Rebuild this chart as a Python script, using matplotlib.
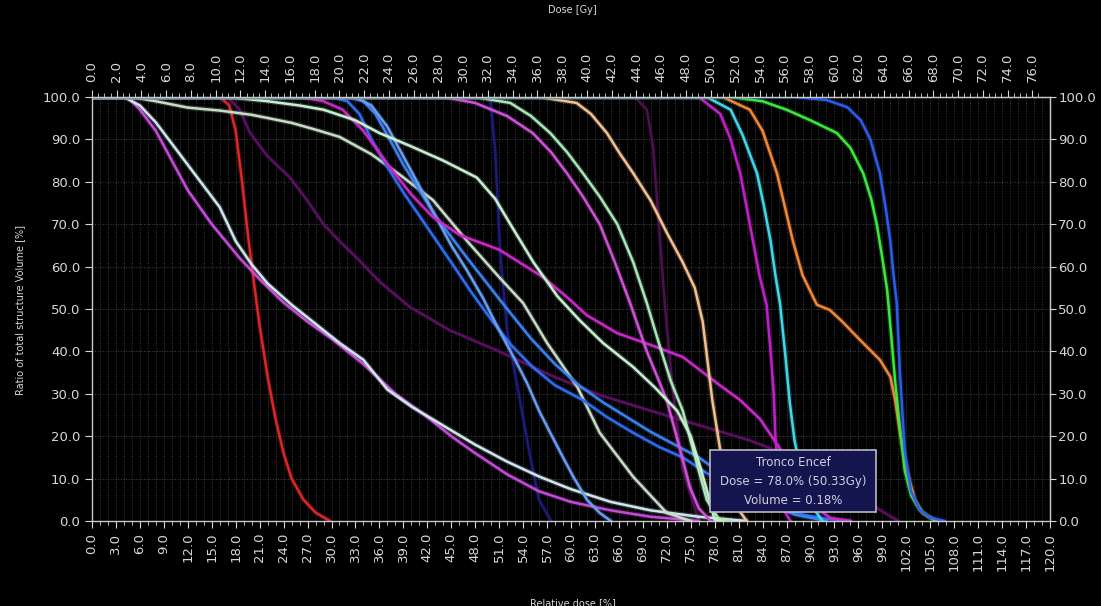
import numpy as np
import matplotlib
matplotlib.use("Agg")
import matplotlib.pyplot as plt
from matplotlib.patches import Rectangle

# relative dose (%) -> dose (Gy): 78.0 % = 50.33 Gy
GY_PER_PCT = 50.33 / 78.0

# DVH curves: (relative dose %, volume %)
red_x = [0, 16, 17.2, 18, 18.8, 19.5, 20.3, 21, 22, 23, 24, 25, 26.5, 28, 29.8]
red_y = [100, 100, 98, 92, 80, 68, 56, 46, 34, 24, 16, 10, 5, 2, 0]

violet_x = [0, 4.5, 6, 8, 10, 12, 15, 18.5, 21, 24, 27, 30, 34, 38, 42, 45, 48, 52, 56, 60, 65, 70, 76]
violet_y = [100, 100, 97, 92, 85, 78, 70, 62, 57, 51.5, 47, 43, 37, 30, 24.5, 20, 16, 11, 7, 4.5, 2.5, 1, 0]

pale_x = [0, 4, 6, 8, 10, 12, 14, 16, 18, 20, 22, 25, 28, 31, 34, 37, 40, 44, 48, 52, 56, 60, 65, 70, 76, 82]
pale_y = [100, 100, 98, 94, 89, 84, 79, 74, 66, 60.5, 56, 51, 46.5, 42, 38, 31, 27, 22.5, 18, 14, 10.5, 7.5, 4.5, 2.5, 1, 0]

grey_x = [0, 5, 8, 12, 16, 20, 25, 28, 31, 35, 38.6, 42.7, 47, 51, 54, 57, 60.8, 63.6, 67.8, 72, 75]
grey_y = [100, 100, 99, 97.5, 96.8, 95.8, 93.9, 92.3, 90.6, 86.5, 81.6, 75.7, 66, 57.5, 51.4, 42, 31.6, 20.8, 10.4, 1.9, 0]

tronco_x = [0, 17, 22, 26, 29, 33, 36, 39.8, 44, 48.2, 50.5, 52.4, 55.3, 58.3, 61, 64, 67.8, 70.5, 73.3, 75, 76.2, 77.2, 78, 79]
tronco_y = [100, 100, 99, 98, 97, 94.5, 91.5, 88.5, 85, 81, 76, 70, 61, 53, 47.5, 42, 36.3, 31.5, 26, 20, 12.7, 6, 0.18, 0]

mag1_x = [0, 26, 29, 31.4, 34, 37.3, 40, 42.7, 46, 51, 56.5, 59.5, 62, 65.8, 70, 74, 78.3, 81.2, 83.7, 86.2, 88, 90, 92.5, 95]
mag1_y = [100, 100, 99, 97, 92, 83.5, 77, 71.7, 67.5, 64, 57.5, 52.8, 48.5, 44.3, 41.5, 38.7, 32.5, 28.5, 24, 17, 10, 4, 0.7, 0]

mag2_x = [0, 44, 48, 52, 55.2, 57.5, 59.5, 61.5, 63.6, 65.5, 67.4, 69.5, 72, 73.5, 74.9, 76, 77.5]
mag2_y = [100, 100, 98.6, 95.5, 91.5, 87, 82, 76.5, 70, 61, 51.4, 40, 28.5, 18, 8, 3, 0]

gw_x = [0, 48, 52.4, 55, 57.4, 59.5, 61.5, 63.6, 65.8, 67.8, 69.5, 71, 72.5, 74, 75.3, 77, 78.5, 80]
gw_y = [100, 100, 98.6, 95.5, 91.5, 87, 82, 76.5, 70, 61, 51.4, 42, 33, 26, 16.7, 5, 0.5, 0]

peach_x = [0, 56, 60.7, 62.5, 64.5, 66, 67.8, 70, 72, 74, 75.5, 76.5, 77.7, 78.7, 79.5, 80.5, 82]
peach_y = [100, 100, 98.6, 96, 91.5, 87, 82, 75.5, 68, 61, 55, 47, 28.5, 16.7, 10, 4, 0]

mag3_x = [0, 76, 78.7, 80, 81.2, 82, 82.8, 83.6, 84.5, 85, 85.4, 85.6, 86, 86.5, 87.5]
mag3_y = [100, 100, 96, 90, 82, 74, 66, 58, 51, 40, 30, 20, 10, 3, 0]

cyan_x = [0, 77, 80, 81.5, 83.3, 84.2, 85, 85.6, 86.2, 86.8, 87.4, 88, 89, 90, 91.5]
cyan_y = [100, 100, 97, 91, 82, 74, 66, 58, 51, 40, 28, 19, 10, 4, 0]

orange_x = [0, 79, 82.4, 84, 85.8, 86.8, 87.8, 89, 90.8, 92.4, 94, 96.2, 98.7, 100, 100.6, 101.2, 101.8, 102.5, 103.1, 104, 105.6]
orange_y = [100, 100, 97, 92, 82, 74, 66, 58, 51, 49.8, 47, 42.7, 38, 34, 28.5, 21, 14.4, 9, 5, 2, 0]

green_x = [0, 80, 84, 87, 90, 93.3, 95, 96.6, 97.6, 98.3, 99, 99.6, 100.1, 100.6, 101.2, 101.8, 102.6, 103.7, 104.8, 106]
green_y = [100, 100, 99, 97, 94.5, 91.5, 88, 82, 76, 70, 62, 54.5, 44, 33, 22, 12, 6, 2.6, 1, 0]

blue_r_x = [0, 88, 92, 94.6, 96.3, 97.5, 98.7, 99.4, 100, 100.4, 100.8, 101.2, 101.8, 102.6, 103.7, 105, 106.8]
blue_r_y = [100, 100, 99.3, 97.6, 94.5, 90, 82, 74, 66, 58, 51.4, 35, 16.7, 7, 2.6, 0.8, 0]

blue1_x = [0, 30, 32, 33.5, 35, 37, 39, 41, 43, 45, 47.5, 50, 52.5, 55.2, 58, 61.5, 64.5, 67.8, 71, 74, 77, 80, 83, 86, 89, 92, 95]
blue1_y = [100, 100, 99, 96, 90, 83.5, 77.5, 72, 66.5, 61, 54, 47.5, 41.5, 36.3, 32, 28.5, 24.5, 20.8, 17.5, 15, 11.3, 8, 5, 3, 1.5, 0.5, 0]

blue2_x = [0, 32, 34, 35.5, 37, 39, 41, 43, 45, 47, 49.5, 52, 55, 58, 61, 64, 67, 70, 73, 76, 79, 82, 85, 88, 92]
blue2_y = [100, 100, 99, 96, 91, 84, 78, 72, 67, 62, 56, 50, 43, 37, 32, 28, 24.5, 21, 18, 15, 11, 7, 4, 1.5, 0]

blue3_x = [0, 33, 35, 37, 39, 41, 43, 45, 47, 49, 51, 53, 54.5, 56, 57.4, 59, 60.3, 62, 63.6, 65]
blue3_y = [100, 100, 98, 93, 86, 79, 72, 65, 59, 52.5, 45, 38, 32.5, 26, 20.8, 15, 10.4, 5, 1.9, 0]

dim1_x = [0, 17, 18.5, 19.8, 22, 24.8, 27, 29, 31, 33.2, 36, 39.8, 44.8, 51, 57.4, 63.6, 70, 76, 82.4, 88.7, 95, 98.7, 101]
dim1_y = [100, 100, 97, 91.5, 86, 81, 75.5, 70, 66, 62, 56.5, 50.5, 45, 40, 34.4, 29.7, 26, 22.6, 19, 14.4, 7.3, 2.6, 0]

dim2_x = [0, 48.5, 49.9, 50.5, 51.1, 52, 53.6, 55, 56, 57.5]
dim2_y = [100, 100, 99.3, 87.5, 64, 45, 28.5, 14, 5, 0]

dim3_x = [0, 68, 69.5, 70.3, 71, 71.8, 72.8, 74, 76]
dim3_y = [100, 100, 97, 88, 70, 50, 30, 12, 0]

# dim curves first so the bright ones sit on top
curves = [
    (dim1_x, dim1_y, "#5a1060"),
    (dim2_x, dim2_y, "#1c1c78"),
    (dim3_x, dim3_y, "#4a1050"),
    (red_x, red_y, "#d82828"),
    (violet_x, violet_y, "#c44ad8"),
    (pale_x, pale_y, "#cfe6ee"),
    (grey_x, grey_y, "#c8dcc8"),
    (blue1_x, blue1_y, "#2e6cf0"),
    (blue2_x, blue2_y, "#3c80f0"),
    (blue3_x, blue3_y, "#6a9cf0"),
    (mag1_x, mag1_y, "#c828c8"),
    (mag2_x, mag2_y, "#d050d8"),
    (gw_x, gw_y, "#a8e8b8"),
    (tronco_x, tronco_y, "#c8f0d0"),
    (peach_x, peach_y, "#f4c090"),
    (mag3_x, mag3_y, "#c020c8"),
    (cyan_x, cyan_y, "#40d8e8"),
    (orange_x, orange_y, "#f08838"),
    (green_x, green_y, "#3ce83c"),
    (blue_r_x, blue_r_y, "#2c5ce8"),
]

bottom_ticks = np.arange(0, 121, 3)
top_ticks = np.arange(0, 77, 2)
vol_ticks = np.arange(0, 101, 10)

txt = "#d8d8d8"
plt.rcParams["font.family"] = ["DejaVu Sans"]

fig = plt.figure(figsize=(11.01, 6.06), dpi=100, facecolor="black")
ax = fig.add_axes([92 / 1101, 85 / 606, 958 / 1101, 424 / 606], facecolor="black")

for xs, ys, col in curves:
    ax.plot(xs, ys, color=col, lw=3.6, alpha=0.22, solid_capstyle="round")
    ax.plot(xs, ys, color=col, lw=1.8, solid_joinstyle="round")

ax.set_xlim(0, 120)
ax.set_ylim(0, 100)

ax.set_xticks(bottom_ticks)
ax.set_xticklabels([f"{v:.1f}" for v in bottom_ticks], rotation=90)
ax.set_xticks(np.arange(0, 121, 1), minor=True)
ax.set_yticks(vol_ticks)
ax.set_yticklabels([f"{v:.1f}" for v in vol_ticks])

ax.grid(True, which="both", axis="x", color="#3c3c3c", ls=":", lw=0.7)
ax.grid(True, which="major", axis="y", color="#444444", ls=":", lw=0.7)
ax.set_axisbelow(True)

for s in ax.spines.values():
    s.set_color("#c8c8c8")
    s.set_linewidth(1.0)

ax.tick_params(colors=txt, labelsize=9.5, length=5, width=0.8)
ax.tick_params(which="minor", colors=txt, length=3, width=0.6)

top = ax.secondary_xaxis("top", functions=(lambda r: r * GY_PER_PCT, lambda g: g / GY_PER_PCT))
top.set_xticks(top_ticks)
top.set_xticklabels([f"{v:.1f}" for v in top_ticks], rotation=90)
top.set_xticks(np.arange(0, 77, 0.5), minor=True)
top.tick_params(colors=txt, labelsize=9.5, length=5, width=0.8, pad=6)
top.tick_params(which="minor", colors=txt, length=3, width=0.6)
top.spines["top"].set_color("#c8c8c8")

right = ax.secondary_yaxis("right")
right.set_yticks(vol_ticks)
right.set_yticklabels([f"{v:.1f}" for v in vol_ticks])
right.tick_params(colors=txt, labelsize=9.5, length=4, width=0.8, pad=2)
right.spines["right"].set_color("#c8c8c8")

fig.text(0.52, 1 - 10 / 606, "Dose [Gy]", color=txt, fontsize=7, ha="center", va="center")
fig.text(0.52, 1 - 603 / 606, "Relative dose [%]", color=txt, fontsize=7, ha="center", va="center")
fig.text(20 / 1101, 1 - 310 / 606, "Ratio of total structure Volume [%]", color=txt,
         fontsize=7, rotation=90, ha="center", va="center")

# hover tooltip
fig.patches.append(Rectangle((710 / 1101, 1 - 512 / 606), 166 / 1101, 62 / 606,
                             transform=fig.transFigure, facecolor="#14144e",
                             edgecolor="#b8b8c8", lw=1.2, zorder=5))
for yy, s in [(462, "Tronco Encef"), (481, "Dose = 78.0% (50.33Gy)"), (500, "Volume = 0.18%")]:
    fig.text(793 / 1101, 1 - yy / 606, s, color="#d0d0e0", fontsize=8.5,
             ha="center", va="center", zorder=6)

fig.savefig("out.png", dpi=100, facecolor="black")
